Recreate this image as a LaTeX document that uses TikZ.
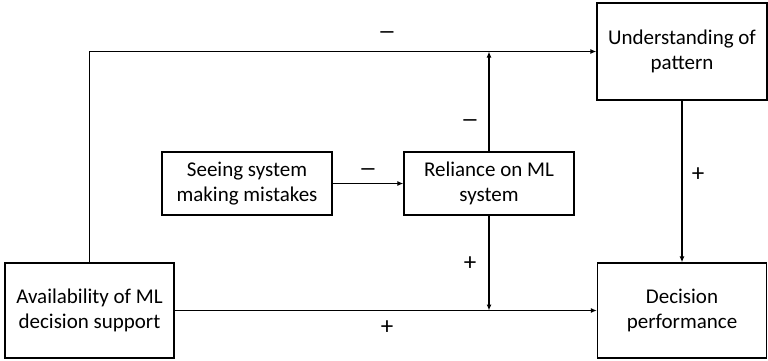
\documentclass[tikz,border=0pt]{standalone}
\usepackage{fontspec}
\setmainfont{Carlito}
\usetikzlibrary{arrows.meta,positioning,calc}

\begin{document}
\begin{tikzpicture}[
  x=1pt, y=-1pt,
  factor/.style={draw=black, line width=1.3pt, align=center, font=\fontsize{21}{25}\selectfont, inner sep=0pt},
  wide/.style={factor, minimum width=169pt, minimum height=95pt},
  small/.style={factor, minimum width=170pt, minimum height=63pt},
  arr/.style={-{Latex[length=6pt,width=5pt]}, line width=1.3pt},
  sign/.style={font=\fontsize{25}{25}\selectfont},
  dsign/.style={font=\bfseries\fontsize{18}{18}\selectfont}
]
\useasboundingbox (0,0) rectangle (768,360);

\node[wide] (avail) at (89.5,310.5) {Availability of ML\\decision support};
\node[wide] (perf) at (682,310.5) {Decision\\performance};
\node[factor, minimum width=170pt, minimum height=97pt] (pattern) at (682,51.5) {Understanding of\\pattern};
\node[small] (mistakes) at (247,183.5) {Seeing system\\making mistakes};
\node[small] (reliance) at (489,183.5) {Reliance on ML\\system};

\coordinate (topjoin) at (reliance.north |- pattern.west);
\coordinate (lowjoin) at (reliance.south |- perf.west);

\draw[arr] (avail.north) |- (pattern.west);
\draw[arr] (avail.east) -- (perf.west);
\draw[arr] (mistakes) -- (reliance);
\draw[arr] (reliance.north) -- (topjoin);
\draw[arr] (reliance.south) -- (lowjoin);
\draw[arr] (pattern) -- (perf);

\node[dsign] (s1) at (387,35) {\textemdash};
\node[dsign] (s2) at (368,172) {\textemdash};
\node[dsign] (s3) at (470,123) {\textemdash};
\node[sign] (s4) at (470,264) {+};
\node[sign] (s5) at (387,328) {+};
\node[sign] (s6) at (698,175) {+};
\end{tikzpicture}
\end{document}
